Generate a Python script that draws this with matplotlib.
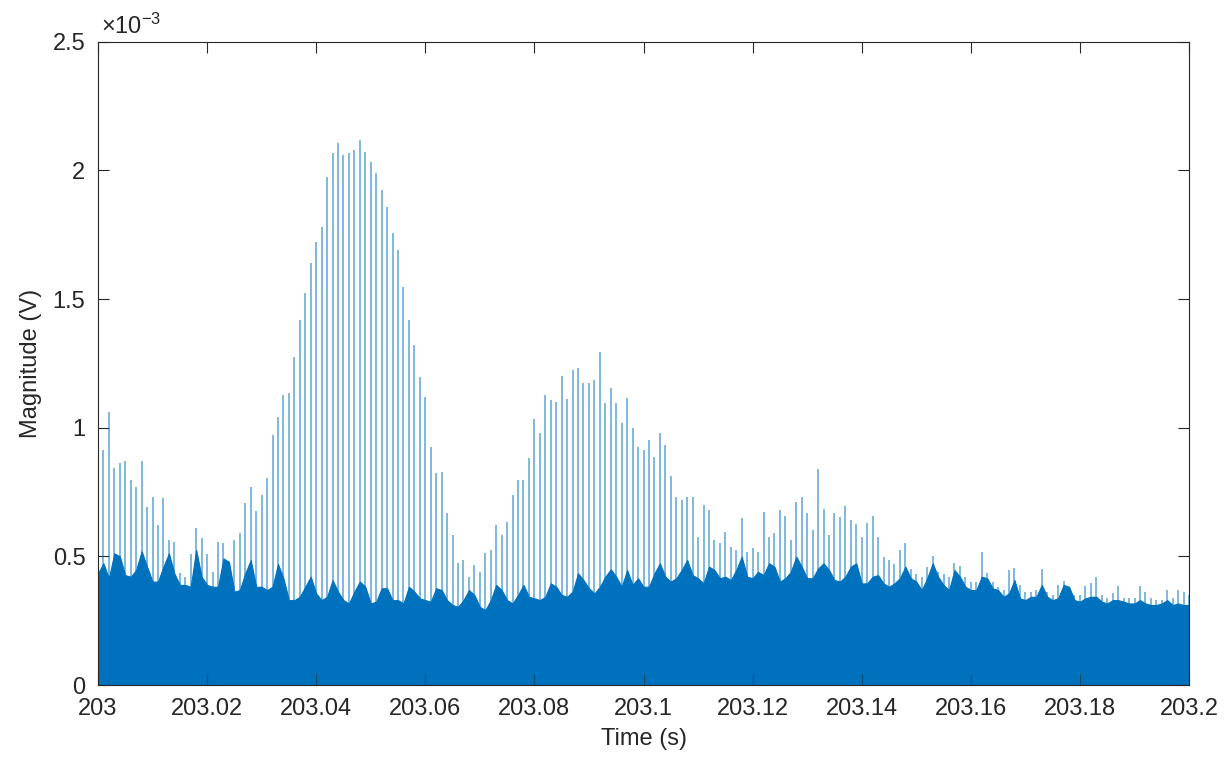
import numpy as np
import matplotlib
matplotlib.use("Agg")
import matplotlib.pyplot as plt
from matplotlib.ticker import FuncFormatter

# time axis: one pulse every ms starting at t0
t0 = 203.0
dt = 0.001

# pulse peak per ms (units of 1e-3 V), k = 0..200
spike_peak = [
    0.73, 0.913, 1.062, 0.843, 0.862, 0.870, 0.797, 0.771, 0.870, 0.693,
    0.732, 0.622, 0.727, 0.563, 0.557, 0.435, 0.42, 0.51, 0.61, 0.57,
    0.51, 0.44, 0.557, 0.55, 0.45, 0.563, 0.59, 0.707, 0.771, 0.676,
    0.738, 0.805, 0.972, 1.04, 1.127, 1.134, 1.276, 1.419, 1.522, 1.639,
    1.723, 1.781, 1.975, 2.066, 2.105, 2.060, 2.066, 2.079, 2.118, 2.073,
    2.034, 1.989, 1.924, 1.859, 1.756, 1.691, 1.548, 1.419, 1.321, 1.198,
    1.120, 0.926, 0.823, 0.829, 0.667, 0.583, 0.474, 0.486, 0.421, 0.466,
    0.440, 0.512, 0.525, 0.622, 0.583, 0.635, 0.738, 0.797, 0.797, 0.881,
    1.033, 0.978, 1.127, 1.108, 1.101, 1.201, 1.110, 1.224, 1.233, 1.175,
    1.172, 1.185, 1.295, 1.095, 1.153, 1.095, 1.017, 1.114, 0.998, 0.926,
    0.913, 0.952, 0.887, 0.981, 0.933, 0.812, 0.729, 0.719, 0.729, 0.732,
    0.576, 0.700, 0.680, 0.563, 0.551, 0.596, 0.537, 0.525, 0.648, 0.518,
    0.531, 0.518, 0.674, 0.576, 0.590, 0.680, 0.657, 0.563, 0.712, 0.729,
    0.667, 0.602, 0.840, 0.683, 0.583, 0.670, 0.652, 0.696, 0.641, 0.626,
    0.576, 0.631, 0.657, 0.576, 0.499, 0.486, 0.470, 0.525, 0.551, 0.45,
    0.43, 0.42, 0.46, 0.501, 0.44, 0.43, 0.42, 0.473, 0.462, 0.42,
    0.40, 0.40, 0.518, 0.437, 0.40, 0.38, 0.37, 0.447, 0.456, 0.389,
    0.36, 0.36, 0.37, 0.450, 0.36, 0.35, 0.39, 0.405, 0.38, 0.35,
    0.35, 0.385, 0.395, 0.421, 0.35, 0.34, 0.359, 0.385, 0.34, 0.34,
    0.34, 0.385, 0.363, 0.34, 0.33, 0.33, 0.369, 0.34, 0.369, 0.36,
    0.35,
]

# background noise level per ms (units of 1e-3 V)
noise_top = [
    0.434, 0.473, 0.415, 0.512, 0.50, 0.427, 0.421, 0.447, 0.52, 0.460,
    0.402, 0.402, 0.460, 0.512, 0.434, 0.389, 0.389, 0.382, 0.525, 0.421,
    0.389, 0.382, 0.382, 0.492, 0.479, 0.363, 0.369, 0.434, 0.486, 0.382,
    0.382, 0.369, 0.382, 0.47, 0.415, 0.330, 0.330, 0.343, 0.382, 0.421,
    0.356, 0.330, 0.343, 0.408, 0.363, 0.330, 0.317, 0.363, 0.402, 0.382,
    0.317, 0.324, 0.376, 0.376, 0.330, 0.330, 0.317, 0.382, 0.363, 0.337,
    0.330, 0.324, 0.376, 0.369, 0.330, 0.311, 0.304, 0.330, 0.369, 0.350,
    0.304, 0.291, 0.330, 0.389, 0.369, 0.330, 0.317, 0.350, 0.389, 0.343,
    0.337, 0.330, 0.343, 0.395, 0.382, 0.350, 0.343, 0.363, 0.434, 0.408,
    0.376, 0.356, 0.382, 0.421, 0.45, 0.421, 0.382, 0.447, 0.389, 0.415,
    0.382, 0.382, 0.434, 0.473, 0.421, 0.402, 0.415, 0.447, 0.486, 0.427,
    0.415, 0.395, 0.460, 0.447, 0.415, 0.421, 0.408, 0.447, 0.499, 0.421,
    0.415, 0.440, 0.427, 0.473, 0.460, 0.402, 0.415, 0.440, 0.499, 0.460,
    0.415, 0.415, 0.453, 0.473, 0.447, 0.408, 0.402, 0.421, 0.460, 0.473,
    0.395, 0.395, 0.421, 0.427, 0.395, 0.382, 0.395, 0.415, 0.460, 0.415,
    0.402, 0.369, 0.415, 0.473, 0.421, 0.389, 0.369, 0.447, 0.421, 0.382,
    0.369, 0.369, 0.421, 0.415, 0.376, 0.369, 0.343, 0.356, 0.408, 0.337,
    0.330, 0.343, 0.343, 0.389, 0.343, 0.330, 0.337, 0.389, 0.382, 0.330,
    0.324, 0.337, 0.343, 0.343, 0.324, 0.317, 0.330, 0.330, 0.324, 0.317,
    0.317, 0.330, 0.317, 0.311, 0.311, 0.317, 0.330, 0.311, 0.317, 0.311,
    0.311,
]

xticks = [203, 203.02, 203.04, 203.06, 203.08, 203.1, 203.12, 203.14, 203.16, 203.18, 203.2]
yticks = [0, 0.5, 1, 1.5, 2, 2.5]

matlab_blue = '#0072BD'
ink = '#262626'

plt.rcParams['font.family'] = ['Liberation Sans', 'DejaVu Sans']
plt.rcParams['mathtext.fontset'] = 'custom'
plt.rcParams['mathtext.rm'] = 'Liberation Sans'
plt.rcParams['mathtext.it'] = 'Liberation Sans'
plt.rcParams['font.size'] = 17

k = np.arange(len(spike_peak))
t_spike = t0 + k * dt
t_noise = t0 + np.arange(len(noise_top)) * dt
spike_v = np.array(spike_peak) * 1e-3
noise_v = np.array(noise_top) * 1e-3

fig = plt.figure(figsize=(12.29, 7.62), dpi=100)
ax = fig.add_axes([0.0797, 0.101, 0.8878, 0.8443])

ax.vlines(t_spike, 0, spike_v, color=matlab_blue, lw=1.4, alpha=0.5)
ax.fill_between(t_noise, 0, noise_v, color=matlab_blue, lw=0.8, ec=matlab_blue)

ax.set_xlim(203, 203.2)
ax.set_ylim(0, 2.5e-3)
ax.set_xticks(xticks)
ax.set_yticks([v * 1e-3 for v in yticks])
ax.xaxis.set_major_formatter(FuncFormatter(lambda v, _: f'{v:g}'))
ax.yaxis.set_major_formatter(FuncFormatter(lambda v, _: f'{v * 1e3:g}'))

ax.tick_params(direction='in', length=8, width=0.8, colors=ink, pad=9,
               top=True, right=True, labelsize=17)
for s in ax.spines.values():
    s.set_color(ink)
    s.set_linewidth(0.8)

ax.set_xlabel('Time (s)', color=ink, fontsize=17, labelpad=6)
ax.set_ylabel('Magnitude (V)', color=ink, fontsize=17, labelpad=8)
ax.text(0.003, 1.005, r'$\times10^{-3}$', transform=ax.transAxes,
        ha='left', va='bottom', color=ink, fontsize=17)

fig.savefig('out.png', dpi=100, facecolor='white')
